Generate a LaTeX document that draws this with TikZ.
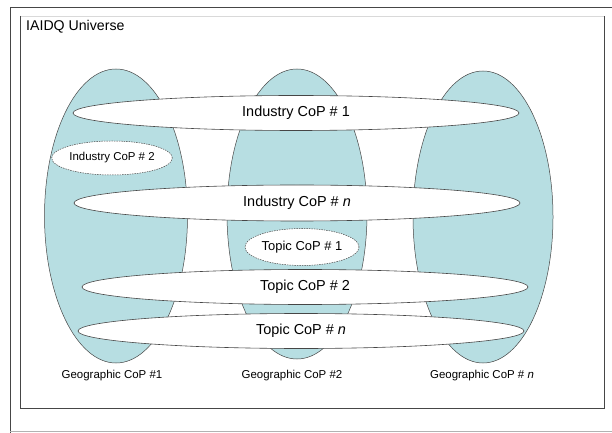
\documentclass[tikz,border=0pt]{standalone}
\usepackage{fontspec}
\setmainfont{Liberation Sans}
\usetikzlibrary{shapes.geometric}
\definecolor{geoteal}{RGB}{183,222,226}
\definecolor{edgegray}{RGB}{70,70,70}
\begin{document}
\begin{tikzpicture}[x=1bp,y=-1bp,
  geo/.style={ellipse,draw=edgegray,line width=0.5pt,fill=geoteal,inner sep=0pt},
  band/.style={ellipse,draw=edgegray,line width=0.6pt,fill=white,inner sep=0pt,
    minimum width=446bp,minimum height=35bp,font=\fontsize{14.5}{16}\selectfont},
  sub/.style={ellipse,draw=edgegray,dashed,line width=0.5pt,fill=white,inner sep=0pt,
    dash pattern=on 1.5pt off 1pt},
  geolabel/.style={inner sep=0pt,font=\fontsize{11.5}{13}\selectfont},
  title/.style={inner sep=0pt,anchor=west,font=\fontsize{14.2}{16}\selectfont}]
\useasboundingbox (0,0) rectangle (612,433);
\fill[white] (0,0) rectangle (612,433);
% outer page frame
\draw[edgegray,line width=0.8pt] (10,433) -- (10,7) -- (612,7);
\draw[gray!60,line width=0.8pt] (10,431) -- (612,431);
% inner frame
\draw[gray!30,line width=0.6pt] (20,16) -- (604,16);
\draw[edgegray,line width=0.7pt] (20,16) -- (20,408) -- (604,408) -- (604,16);
\node[title] (universe) at (26,27) {IAIDQ Universe};
% geographic CoPs
\node[geo,minimum width=143bp,minimum height=294bp] (g1) at (116,216) {};
\node[geo,minimum width=140bp,minimum height=290bp] (g2) at (297,214) {};
\node[geo,minimum width=140bp,minimum height=292bp] (g3) at (483,217) {};
% bands
\node[band] (i1) at (296,113) {Industry CoP \# 1};
\node[band,minimum height=36bp] (in) at (297,203) {Industry CoP \# \textit{n}};
\node[band] (t2) at (305,287) {Topic CoP \# 2};
\node[band] (tn) at (301,331) {Topic CoP \# \textit{n}};
% dashed sub-communities
\node[sub,minimum width=104bp,minimum height=34bp,font=\fontsize{11.5}{13}\selectfont] (i2) at (112,158) {Industry CoP \# 2};
\node[sub,minimum width=114bp,minimum height=37bp,font=\fontsize{13}{15}\selectfont] (t1) at (302,247) {Topic CoP \# 1};
% labels
\node[geolabel] (l1) at (112,376) {Geographic CoP \#1};
\node[geolabel] (l2) at (292,376) {Geographic CoP \#2};
\node[geolabel] (l3) at (482,376) {Geographic CoP \# \textit{n}};
\end{tikzpicture}
\end{document}
